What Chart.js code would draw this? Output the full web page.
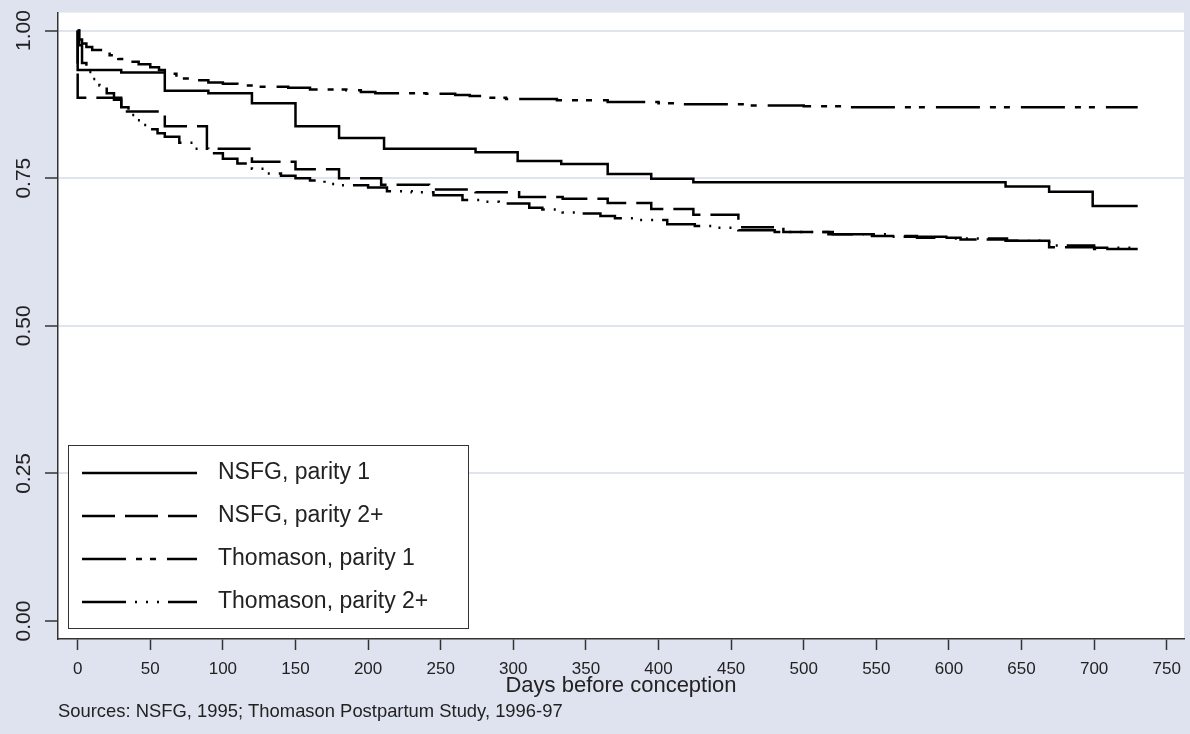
<!DOCTYPE html>
<html>
<head>
<meta charset="utf-8">
<script src="https://cdn.jsdelivr.net/npm/chart.js@4/dist/chart.umd.min.js"></script>
<style>
  html, body { margin: 0; padding: 0; background: #dee3ef; }
  #wrap { width: 1190px; height: 734px; }
</style>
</head>
<body>
<div id="wrap"><canvas id="grafico" width="1190" height="734"></canvas></div>
<script>
// Eixos
const ticksX = [0, 50, 100, 150, 200, 250, 300, 350, 400, 450, 500, 550, 600, 650, 700, 750];
const ticksY = [0, 0.25, 0.5, 0.75, 1];
const nomes = ["NSFG, parity 1", "NSFG, parity 2+", "Thomason, parity 1", "Thomason, parity 2+"];

// NSFG, parity 1
const nsfg1Dias = [0, 0, 30, 60, 90, 120, 150, 180, 211, 274, 303, 333, 365, 395, 424, 639, 669, 699, 730];
const nsfg1Surv = [1, 0.933, 0.929, 0.898, 0.894, 0.877, 0.838, 0.818, 0.800, 0.794, 0.779, 0.774, 0.757, 0.749, 0.743, 0.736, 0.727, 0.703, 0.703];

// NSFG, parity 2+
const nsfg2Dias = [0, 0, 30, 60, 89, 120, 150, 180, 209, 242, 274, 304, 334, 365, 395, 424, 455, 486, 517, 547, 578, 608, 639, 669, 700, 730];
const nsfg2Surv = [1, 0.886, 0.863, 0.838, 0.800, 0.778, 0.765, 0.750, 0.739, 0.731, 0.726, 0.718, 0.715, 0.708, 0.698, 0.688, 0.667, 0.659, 0.655, 0.652, 0.649, 0.646, 0.644, 0.633, 0.630, 0.630];

// Thomason, parity 1
const thom1Dias = [0, 1, 3, 6, 10, 16, 22, 28, 35, 42, 50, 56, 60, 68, 77, 90, 100, 110, 125, 145, 160, 185, 195, 205, 240, 260, 270, 280, 295, 330, 365, 400, 415, 460, 500, 530, 730];
const thom1Surv = [1, 0.985, 0.978, 0.972, 0.967, 0.963, 0.958, 0.952, 0.947, 0.943, 0.938, 0.933, 0.927, 0.919, 0.916, 0.912, 0.910, 0.907, 0.905, 0.903, 0.900, 0.899, 0.896, 0.894, 0.893, 0.891, 0.889, 0.886, 0.884, 0.882, 0.879, 0.877, 0.875, 0.873, 0.872, 0.870, 0.870];

// Thomason, parity 2+
const thom2Dias = [0, 1, 3, 6, 10, 15, 20, 25, 30, 35, 40, 45, 50, 55, 60, 70, 80, 90, 100, 110, 120, 130, 140, 150, 160, 170, 180, 200, 213, 230, 245, 265, 280, 290, 311, 320, 334, 345, 360, 370, 383, 406, 425, 440, 455, 480, 520, 560, 600, 640, 669, 700, 730];
const thom2Surv = [1, 0.975, 0.945, 0.930, 0.918, 0.907, 0.894, 0.883, 0.870, 0.857, 0.848, 0.840, 0.833, 0.826, 0.820, 0.810, 0.800, 0.792, 0.783, 0.775, 0.766, 0.758, 0.754, 0.750, 0.746, 0.740, 0.738, 0.734, 0.728, 0.726, 0.721, 0.713, 0.710, 0.707, 0.700, 0.697, 0.692, 0.690, 0.686, 0.682, 0.679, 0.672, 0.669, 0.666, 0.662, 0.659, 0.655, 0.651, 0.648, 0.644, 0.636, 0.632, 0.630];

const fonte = "'Liberation Sans', Arial, sans-serif";
const texto = "#222";
const eixo = "#333";

function pontos(dias, surv) {
  return dias.map((d, i) => ({ x: d, y: surv[i] }));
}

function serie(nome, dias, surv, traco) {
  return {
    label: nome,
    data: pontos(dias, surv),
    borderColor: "#000",
    backgroundColor: "#000",
    borderWidth: 2.5,
    borderDash: traco,
    borderCapStyle: "butt",
    stepped: "before",
    pointRadius: 0,
    fill: false
  };
}

// Fundo cinza-azulado e area do grafico branca
const fundo = {
  id: "fundo",
  beforeDraw(chart) {
    const { ctx, chartArea: a } = chart;
    ctx.save();
    ctx.fillStyle = "#dee3ef";
    ctx.fillRect(0, 0, chart.width, chart.height);
    ctx.fillStyle = "#ffffff";
    ctx.fillRect(a.left, a.top, a.right - a.left, a.bottom - a.top);
    ctx.restore();
  }
};

// Legenda dentro do grafico, com caixa branca e borda
const legenda = {
  id: "legenda",
  afterDraw(chart) {
    const { ctx, chartArea: a } = chart;
    const x = a.left + 10, y = a.bottom - 194, w = 400, h = 183;
    ctx.save();
    ctx.fillStyle = "#ffffff";
    ctx.fillRect(x, y, w, h);
    ctx.strokeStyle = eixo;
    ctx.lineWidth = 1;
    ctx.strokeRect(x + 0.5, y + 0.5, w, h);

    ctx.font = "23px " + fonte;
    ctx.textBaseline = "middle";
    chart.data.datasets.forEach((ds, i) => {
      const ly = y + 28 + i * 43;
      ctx.beginPath();
      ctx.setLineDash(ds.borderDash || []);
      ctx.lineCap = "butt";
      ctx.lineWidth = ds.borderWidth;
      ctx.strokeStyle = ds.borderColor;
      ctx.moveTo(x + 14, ly);
      ctx.lineTo(x + 129, ly);
      ctx.stroke();
      ctx.setLineDash([]);
      ctx.fillStyle = texto;
      ctx.fillText(ds.label, x + 150, ly);
    });
    ctx.restore();
  }
};

Chart.defaults.font.family = fonte;

const grafico = new Chart(document.getElementById("grafico"), {
  type: "line",
  data: {
    datasets: [
      serie(nomes[0], nsfg1Dias, nsfg1Surv, []),
      serie(nomes[1], nsfg2Dias, nsfg2Surv, [33, 10]),
      serie(nomes[2], thom1Dias, thom1Surv, [44, 10, 6, 8, 6, 11]),
      serie(nomes[3], thom2Dias, thom2Surv, [44, 9, 2, 9, 2, 9, 2, 9])
    ]
  },
  options: {
    responsive: false,
    devicePixelRatio: 1,
    animation: false,
    layout: { padding: { top: 11, right: 5, left: 0, bottom: 0 } },
    scales: {
      x: {
        type: "linear",
        min: -13.55,
        max: 761.9,
        afterBuildTicks: (s) => { s.ticks = ticksX.map(v => ({ value: v })); },
        afterFit: (s) => { s.height = 58; },
        grid: { drawOnChartArea: false, tickLength: 11, tickColor: eixo, tickWidth: 1.5 },
        border: { color: eixo, width: 1.5 },
        ticks: { autoSkip: false, maxRotation: 0, color: texto, padding: 9, font: { size: 17 } },
        title: { display: true, text: "Days before conception", color: texto, padding: 0, font: { size: 22, lineHeight: 1 } }
      },
      y: {
        min: -0.0304,
        max: 1.0304,
        afterBuildTicks: (s) => { s.ticks = ticksY.map(v => ({ value: v })); },
        afterFit: (s) => { s.width = 58; },
        grid: {
          color: (c) => (c.tick && c.tick.value === 0 ? "rgba(0,0,0,0)" : "#dfe4ef"),
          lineWidth: 2,
          tickLength: 13,
          tickColor: eixo,
          tickWidth: 1.5
        },
        border: { color: eixo, width: 1.5 },
        ticks: {
          minRotation: 90,
          maxRotation: 90,
          crossAlign: "center",
          padding: 0,
          color: texto,
          font: { size: 21 },
          callback: (v) => Number(v).toFixed(2)
        }
      }
    },
    plugins: {
      legend: { display: false },
      subtitle: {
        display: true,
        position: "bottom",
        align: "start",
        fullSize: false,
        text: "Sources: NSFG, 1995; Thomason Postpartum Study, 1996-97",
        color: texto,
        font: { size: 18.4, lineHeight: 1 },
        padding: { top: 6, bottom: 12.6 }
      },
      tooltip: { enabled: false }
    }
  },
  plugins: [fundo, legenda]
});
</script>
</body>
</html>
